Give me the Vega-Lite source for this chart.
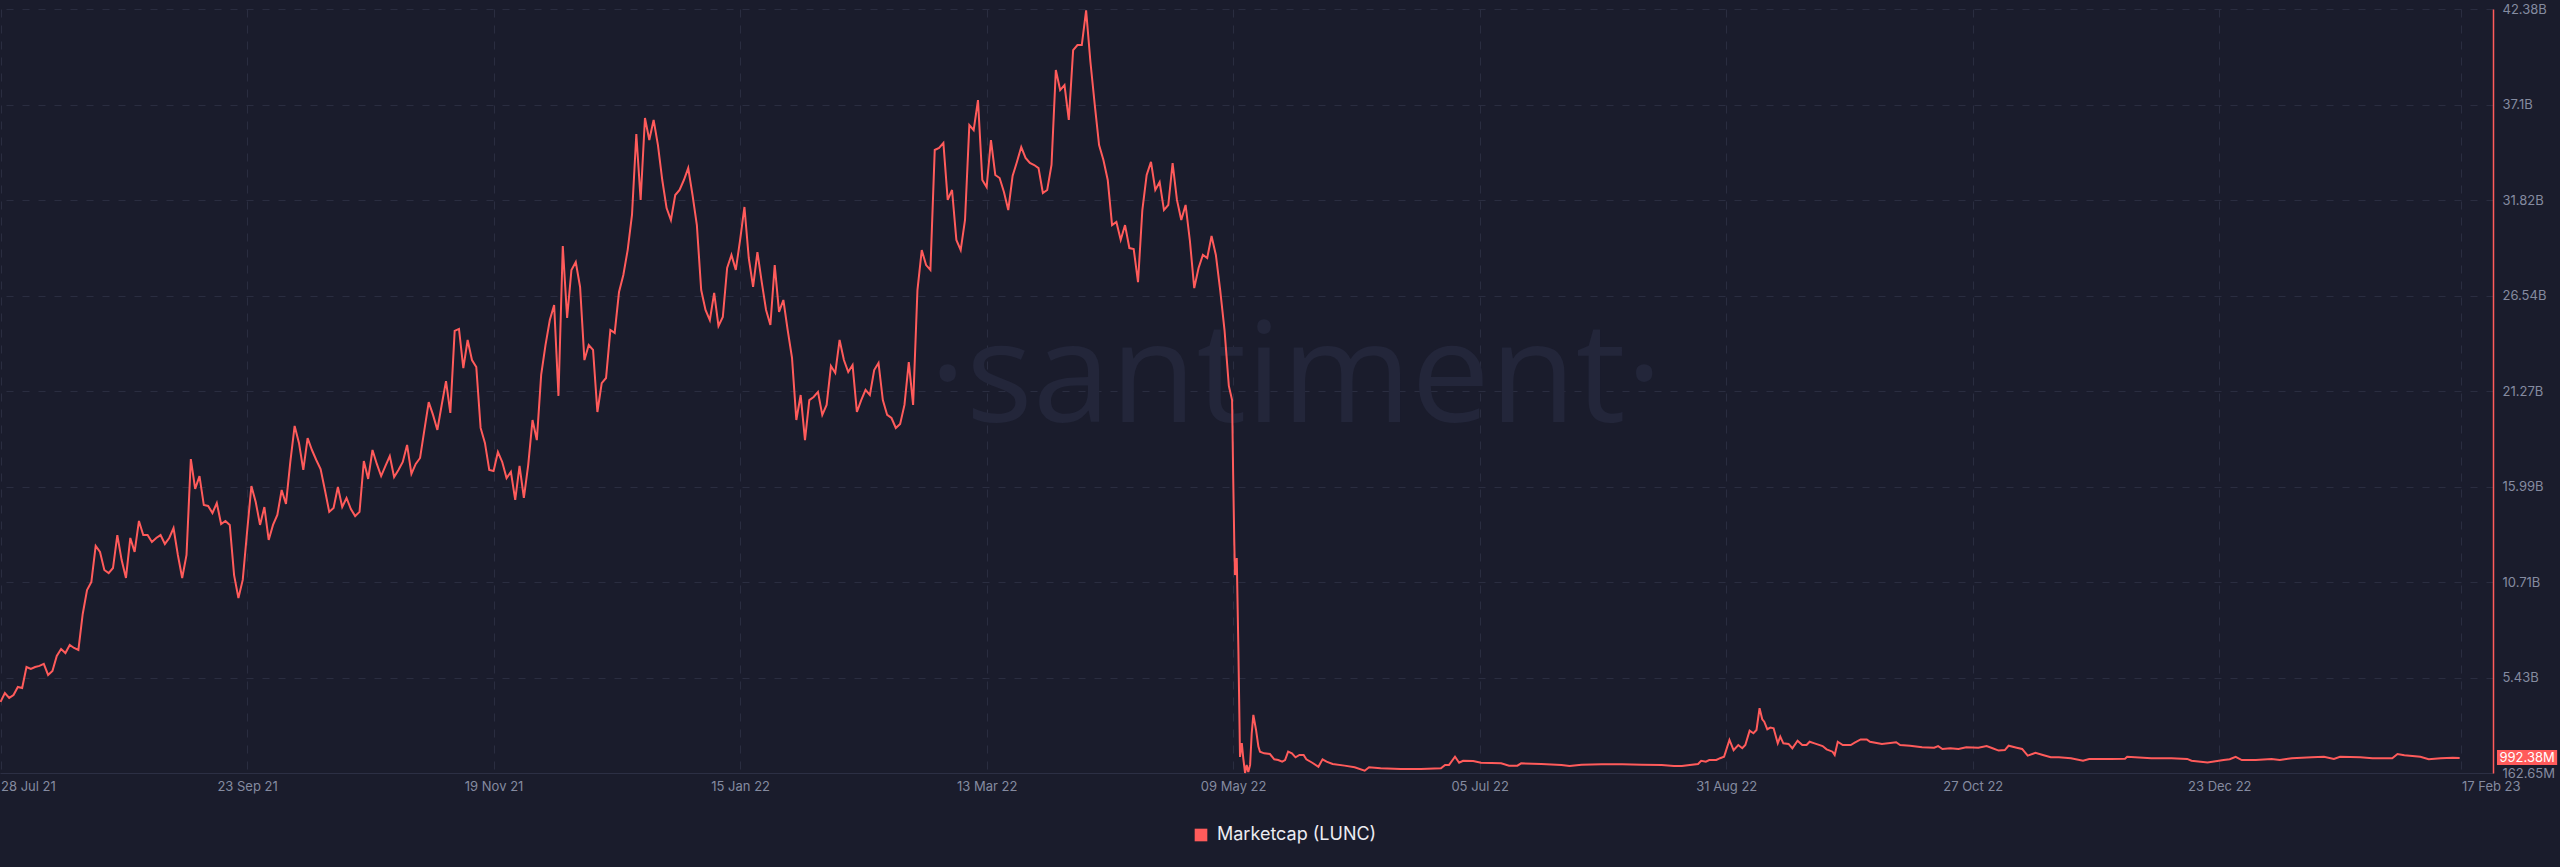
{
"$schema": "https://vega.github.io/schema/vega-lite/v6.json",
"width": 2493, "height": 764,
"autosize": {"type": "none"},
"padding": {"left": 0, "top": 9, "right": 67, "bottom": 94},
"background": "#1a1c2c",
"config": {"view": {"stroke": null}, "font": "Inter"},
"layer": [
{
"data": {"values": [{"wm": "·santiment·"}]},
"mark": {"type": "text", "font": "Open Sans", "fontWeight": 400, "fontSize": 140, "color": "#23263a", "align": "center", "baseline": "alphabetic"},
"encoding": {
"x": {"datum": {"year": 2022, "month": 5, "date": 23, "hours": 12, "utc": true}, "type": "temporal", "title": null},
"y": {"datum": 19560000000, "type": "quantitative", "title": null},
"text": {"field": "wm"}
}
},
{
"data": {"values": [
{"date":"2021-07-28","marketcap":4.09e9},{"date":"2021-07-29","marketcap":4.58e9},{"date":"2021-07-30","marketcap":4.31e9},{"date":"2021-07-31","marketcap":4.47e9},
{"date":"2021-08-01","marketcap":4.92e9},{"date":"2021-08-02","marketcap":4.86e9},{"date":"2021-08-03","marketcap":6.02e9},{"date":"2021-08-04","marketcap":5.91e9},
{"date":"2021-08-05","marketcap":6.02e9},{"date":"2021-08-06","marketcap":6.08e9},{"date":"2021-08-07","marketcap":6.19e9},{"date":"2021-08-08","marketcap":5.58e9},
{"date":"2021-08-09","marketcap":5.80e9},{"date":"2021-08-10","marketcap":6.63e9},{"date":"2021-08-11","marketcap":7.01e9},{"date":"2021-08-12","marketcap":6.79e9},
{"date":"2021-08-13","marketcap":7.24e9},{"date":"2021-08-14","marketcap":7.07e9},{"date":"2021-08-15","marketcap":6.96e9},{"date":"2021-08-16","marketcap":8.95e9},
{"date":"2021-08-17","marketcap":10.27e9},{"date":"2021-08-18","marketcap":10.72e9},{"date":"2021-08-19","marketcap":12.71e9},{"date":"2021-08-20","marketcap":12.38e9},
{"date":"2021-08-21","marketcap":11.38e9},{"date":"2021-08-22","marketcap":11.21e9},{"date":"2021-08-23","marketcap":11.49e9},{"date":"2021-08-24","marketcap":13.31e9},
{"date":"2021-08-25","marketcap":11.93e9},{"date":"2021-08-26","marketcap":10.94e9},{"date":"2021-08-27","marketcap":13.15e9},{"date":"2021-08-28","marketcap":12.38e9},
{"date":"2021-08-29","marketcap":14.09e9},{"date":"2021-08-30","marketcap":13.31e9},{"date":"2021-08-31","marketcap":13.31e9},{"date":"2021-09-01","marketcap":12.93e9},
{"date":"2021-09-02","marketcap":13.15e9},{"date":"2021-09-03","marketcap":13.31e9},{"date":"2021-09-04","marketcap":12.82e9},{"date":"2021-09-05","marketcap":13.15e9},
{"date":"2021-09-06","marketcap":13.70e9},{"date":"2021-09-07","marketcap":12.21e9},{"date":"2021-09-08","marketcap":10.94e9},{"date":"2021-09-09","marketcap":12.21e9},
{"date":"2021-09-10","marketcap":17.51e9},{"date":"2021-09-11","marketcap":15.86e9},{"date":"2021-09-12","marketcap":16.57e9},{"date":"2021-09-13","marketcap":14.97e9},
{"date":"2021-09-14","marketcap":14.92e9},{"date":"2021-09-15","marketcap":14.53e9},{"date":"2021-09-16","marketcap":15.08e9},{"date":"2021-09-17","marketcap":13.92e9},
{"date":"2021-09-18","marketcap":14.09e9},{"date":"2021-09-19","marketcap":13.87e9},{"date":"2021-09-20","marketcap":11.10e9},{"date":"2021-09-21","marketcap":9.83e9},
{"date":"2021-09-22","marketcap":10.83e9},{"date":"2021-09-23","marketcap":13.48e9},{"date":"2021-09-24","marketcap":16.02e9},{"date":"2021-09-25","marketcap":15.14e9},
{"date":"2021-09-26","marketcap":13.87e9},{"date":"2021-09-27","marketcap":14.86e9},{"date":"2021-09-28","marketcap":13.04e9},{"date":"2021-09-29","marketcap":13.87e9},
{"date":"2021-09-30","marketcap":14.42e9},{"date":"2021-10-01","marketcap":15.80e9},{"date":"2021-10-02","marketcap":15.03e9},{"date":"2021-10-03","marketcap":17.35e9},
{"date":"2021-10-04","marketcap":19.34e9},{"date":"2021-10-05","marketcap":18.40e9},{"date":"2021-10-06","marketcap":16.91e9},{"date":"2021-10-07","marketcap":18.67e9},
{"date":"2021-10-08","marketcap":18.01e9},{"date":"2021-10-09","marketcap":17.46e9},{"date":"2021-10-10","marketcap":16.96e9},{"date":"2021-10-11","marketcap":15.80e9},
{"date":"2021-10-12","marketcap":14.59e9},{"date":"2021-10-13","marketcap":14.81e9},{"date":"2021-10-14","marketcap":15.97e9},{"date":"2021-10-15","marketcap":14.86e9},
{"date":"2021-10-16","marketcap":15.36e9},{"date":"2021-10-17","marketcap":14.75e9},{"date":"2021-10-18","marketcap":14.36e9},{"date":"2021-10-19","marketcap":14.59e9},
{"date":"2021-10-20","marketcap":17.40e9},{"date":"2021-10-21","marketcap":16.41e9},{"date":"2021-10-22","marketcap":18.01e9},{"date":"2021-10-23","marketcap":17.24e9},
{"date":"2021-10-24","marketcap":16.57e9},{"date":"2021-10-25","marketcap":17.13e9},{"date":"2021-10-26","marketcap":17.68e9},{"date":"2021-10-27","marketcap":16.52e9},
{"date":"2021-10-28","marketcap":16.91e9},{"date":"2021-10-29","marketcap":17.35e9},{"date":"2021-10-30","marketcap":18.29e9},{"date":"2021-10-31","marketcap":16.69e9},
{"date":"2021-11-01","marketcap":17.24e9},{"date":"2021-11-02","marketcap":17.57e9},{"date":"2021-11-03","marketcap":19.12e9},{"date":"2021-11-04","marketcap":20.66e9},
{"date":"2021-11-05","marketcap":19.95e9},{"date":"2021-11-06","marketcap":19.12e9},{"date":"2021-11-07","marketcap":20.50e9},{"date":"2021-11-08","marketcap":21.82e9},
{"date":"2021-11-09","marketcap":20.06e9},{"date":"2021-11-10","marketcap":24.59e9},{"date":"2021-11-11","marketcap":24.70e9},{"date":"2021-11-12","marketcap":22.54e9},
{"date":"2021-11-13","marketcap":24.09e9},{"date":"2021-11-14","marketcap":22.98e9},{"date":"2021-11-15","marketcap":22.60e9},{"date":"2021-11-16","marketcap":19.23e9},
{"date":"2021-11-17","marketcap":18.40e9},{"date":"2021-11-18","marketcap":16.91e9},{"date":"2021-11-19","marketcap":16.85e9},{"date":"2021-11-20","marketcap":17.90e9},
{"date":"2021-11-21","marketcap":17.35e9},{"date":"2021-11-22","marketcap":16.46e9},{"date":"2021-11-23","marketcap":16.80e9},{"date":"2021-11-24","marketcap":15.25e9},
{"date":"2021-11-25","marketcap":17.13e9},{"date":"2021-11-26","marketcap":15.36e9},{"date":"2021-11-27","marketcap":17.18e9},{"date":"2021-11-28","marketcap":19.67e9},
{"date":"2021-11-29","marketcap":18.56e9},{"date":"2021-11-30","marketcap":22.16e9},{"date":"2021-12-01","marketcap":23.81e9},{"date":"2021-12-02","marketcap":25.19e9},
{"date":"2021-12-03","marketcap":26.02e9},{"date":"2021-12-04","marketcap":21.00e9},{"date":"2021-12-05","marketcap":29.28e9},{"date":"2021-12-06","marketcap":25.31e9},
{"date":"2021-12-07","marketcap":27.96e9},{"date":"2021-12-08","marketcap":28.40e9},{"date":"2021-12-09","marketcap":27.02e9},{"date":"2021-12-10","marketcap":22.98e9},
{"date":"2021-12-11","marketcap":23.81e9},{"date":"2021-12-12","marketcap":23.54e9},{"date":"2021-12-13","marketcap":20.11e9},{"date":"2021-12-14","marketcap":21.71e9},
{"date":"2021-12-15","marketcap":21.99e9},{"date":"2021-12-16","marketcap":24.64e9},{"date":"2021-12-17","marketcap":24.48e9},{"date":"2021-12-18","marketcap":26.74e9},
{"date":"2021-12-19","marketcap":27.68e9},{"date":"2021-12-20","marketcap":29.06e9},{"date":"2021-12-21","marketcap":31.00e9},{"date":"2021-12-22","marketcap":35.47e9},
{"date":"2021-12-23","marketcap":31.83e9},{"date":"2021-12-24","marketcap":36.36e9},{"date":"2021-12-25","marketcap":35.14e9},{"date":"2021-12-26","marketcap":36.25e9},
{"date":"2021-12-27","marketcap":34.86e9},{"date":"2021-12-28","marketcap":32.93e9},{"date":"2021-12-29","marketcap":31.38e9},{"date":"2021-12-30","marketcap":30.72e9},
{"date":"2021-12-31","marketcap":32.10e9},{"date":"2022-01-01","marketcap":32.38e9},{"date":"2022-01-02","marketcap":32.93e9},{"date":"2022-01-03","marketcap":33.59e9},
{"date":"2022-01-04","marketcap":32.10e9},{"date":"2022-01-05","marketcap":30.44e9},{"date":"2022-01-06","marketcap":26.85e9},{"date":"2022-01-07","marketcap":25.75e9},
{"date":"2022-01-08","marketcap":25.19e9},{"date":"2022-01-09","marketcap":26.69e9},{"date":"2022-01-10","marketcap":24.86e9},{"date":"2022-01-11","marketcap":25.36e9},
{"date":"2022-01-12","marketcap":28.07e9},{"date":"2022-01-13","marketcap":28.79e9},{"date":"2022-01-14","marketcap":27.96e9},{"date":"2022-01-15","marketcap":29.62e9},
{"date":"2022-01-16","marketcap":31.44e9},{"date":"2022-01-17","marketcap":28.62e9},{"date":"2022-01-18","marketcap":27.02e9},{"date":"2022-01-19","marketcap":28.95e9},
{"date":"2022-01-20","marketcap":27.29e9},{"date":"2022-01-21","marketcap":25.75e9},{"date":"2022-01-22","marketcap":24.92e9},{"date":"2022-01-23","marketcap":28.23e9},
{"date":"2022-01-24","marketcap":25.64e9},{"date":"2022-01-25","marketcap":26.30e9},{"date":"2022-01-26","marketcap":24.64e9},{"date":"2022-01-27","marketcap":23.10e9},
{"date":"2022-01-28","marketcap":19.67e9},{"date":"2022-01-29","marketcap":21.05e9},{"date":"2022-01-30","marketcap":18.56e9},{"date":"2022-01-31","marketcap":20.77e9},
{"date":"2022-02-01","marketcap":20.94e9},{"date":"2022-02-02","marketcap":21.22e9},{"date":"2022-02-03","marketcap":19.95e9},{"date":"2022-02-04","marketcap":20.50e9},
{"date":"2022-02-05","marketcap":22.65e9},{"date":"2022-02-06","marketcap":22.27e9},{"date":"2022-02-07","marketcap":24.09e9},{"date":"2022-02-08","marketcap":22.98e9},
{"date":"2022-02-09","marketcap":22.32e9},{"date":"2022-02-10","marketcap":22.71e9},{"date":"2022-02-11","marketcap":20.11e9},{"date":"2022-02-12","marketcap":20.77e9},
{"date":"2022-02-13","marketcap":21.33e9},{"date":"2022-02-14","marketcap":21.05e9},{"date":"2022-02-15","marketcap":22.43e9},{"date":"2022-02-16","marketcap":22.82e9},
{"date":"2022-02-17","marketcap":20.77e9},{"date":"2022-02-18","marketcap":19.95e9},{"date":"2022-02-19","marketcap":19.78e9},{"date":"2022-02-20","marketcap":19.23e9},
{"date":"2022-02-21","marketcap":19.45e9},{"date":"2022-02-22","marketcap":20.50e9},{"date":"2022-02-23","marketcap":22.87e9},{"date":"2022-02-24","marketcap":20.50e9},
{"date":"2022-02-25","marketcap":26.85e9},{"date":"2022-02-26","marketcap":29.06e9},{"date":"2022-02-27","marketcap":28.23e9},{"date":"2022-02-28","marketcap":27.96e9},
{"date":"2022-03-01","marketcap":34.59e9},{"date":"2022-03-02","marketcap":34.70e9},{"date":"2022-03-03","marketcap":34.98e9},{"date":"2022-03-04","marketcap":31.83e9},
{"date":"2022-03-05","marketcap":32.38e9},{"date":"2022-03-06","marketcap":29.62e9},{"date":"2022-03-07","marketcap":29.06e9},{"date":"2022-03-08","marketcap":30.72e9},
{"date":"2022-03-09","marketcap":35.97e9},{"date":"2022-03-10","marketcap":35.69e9},{"date":"2022-03-11","marketcap":37.35e9},{"date":"2022-03-12","marketcap":32.93e9},
{"date":"2022-03-13","marketcap":32.54e9},{"date":"2022-03-14","marketcap":35.14e9},{"date":"2022-03-15","marketcap":33.21e9},{"date":"2022-03-16","marketcap":33.04e9},
{"date":"2022-03-17","marketcap":32.27e9},{"date":"2022-03-18","marketcap":31.27e9},{"date":"2022-03-19","marketcap":33.15e9},{"date":"2022-03-20","marketcap":33.93e9},
{"date":"2022-03-21","marketcap":34.75e9},{"date":"2022-03-22","marketcap":34.15e9},{"date":"2022-03-23","marketcap":33.87e9},{"date":"2022-03-24","marketcap":33.76e9},
{"date":"2022-03-25","marketcap":33.59e9},{"date":"2022-03-26","marketcap":32.21e9},{"date":"2022-03-27","marketcap":32.38e9},{"date":"2022-03-28","marketcap":33.76e9},
{"date":"2022-03-29","marketcap":39.01e9},{"date":"2022-03-30","marketcap":37.90e9},{"date":"2022-03-31","marketcap":38.18e9},{"date":"2022-04-01","marketcap":36.25e9},
{"date":"2022-04-02","marketcap":40.11e9},{"date":"2022-04-03","marketcap":40.39e9},{"date":"2022-04-04","marketcap":40.39e9},{"date":"2022-04-05","marketcap":42.30e9},
{"date":"2022-04-06","marketcap":39.45e9},{"date":"2022-04-07","marketcap":37.08e9},{"date":"2022-04-08","marketcap":34.86e9},{"date":"2022-04-09","marketcap":34.04e9},
{"date":"2022-04-10","marketcap":32.93e9},{"date":"2022-04-11","marketcap":30.44e9},{"date":"2022-04-12","marketcap":30.61e9},{"date":"2022-04-13","marketcap":29.62e9},
{"date":"2022-04-14","marketcap":30.44e9},{"date":"2022-04-15","marketcap":29.17e9},{"date":"2022-04-16","marketcap":29.12e9},{"date":"2022-04-17","marketcap":27.29e9},
{"date":"2022-04-18","marketcap":31.27e9},{"date":"2022-04-19","marketcap":33.21e9},{"date":"2022-04-20","marketcap":33.93e9},{"date":"2022-04-21","marketcap":32.38e9},
{"date":"2022-04-22","marketcap":32.82e9},{"date":"2022-04-23","marketcap":31.27e9},{"date":"2022-04-24","marketcap":31.55e9},{"date":"2022-04-25","marketcap":33.87e9},
{"date":"2022-04-26","marketcap":31.83e9},{"date":"2022-04-27","marketcap":30.72e9},{"date":"2022-04-28","marketcap":31.55e9},{"date":"2022-04-29","marketcap":29.56e9},
{"date":"2022-04-30","marketcap":26.96e9},{"date":"2022-05-01","marketcap":28.07e9},{"date":"2022-05-02","marketcap":28.79e9},{"date":"2022-05-03","marketcap":28.62e9},
{"date":"2022-05-04","marketcap":29.84e9},{"date":"2022-05-05","marketcap":28.79e9},{"date":"2022-05-06","marketcap":26.85e9},{"date":"2022-05-07","marketcap":24.64e9},
{"date":"2022-05-08","marketcap":21.55e9},{"date":"2022-05-08T18:00Z","marketcap":20.77e9},{"date":"2022-05-09T00:00Z","marketcap":16.63e9},{"date":"2022-05-09T06:00Z","marketcap":13.04e9},
{"date":"2022-05-09T10:00Z","marketcap":11.10e9},{"date":"2022-05-09T20:00Z","marketcap":12.04e9},{"date":"2022-05-10T05:00Z","marketcap":6.96e9},{"date":"2022-05-10T14:00Z","marketcap":1.05e9},
{"date":"2022-05-11T00:00Z","marketcap":1.82e9},{"date":"2022-05-11T08:00Z","marketcap":0.99e9},{"date":"2022-05-11T18:00Z","marketcap":0.16265e9},{"date":"2022-05-12T03:00Z","marketcap":0.61e9},
{"date":"2022-05-12T12:00Z","marketcap":0.22e9},{"date":"2022-05-12T22:00Z","marketcap":0.61e9},{"date":"2022-05-13T07:00Z","marketcap":2.37e9},{"date":"2022-05-13T16:00Z","marketcap":3.37e9},
{"date":"2022-05-14T07:00Z","marketcap":2.54e9},{"date":"2022-05-14T20:00Z","marketcap":1.62e9},{"date":"2022-05-15T05:00Z","marketcap":1.34e9},
{"date":"2022-05-16T04:00Z","marketcap":1.25e9},{"date":"2022-05-17T12:00Z","marketcap":1.21e9},{"date":"2022-05-18T12:00Z","marketcap":0.92e9},{"date":"2022-05-19T10:00Z","marketcap":0.88e9},
{"date":"2022-05-20T08:00Z","marketcap":0.79e9},{"date":"2022-05-21T00:00Z","marketcap":0.88e9},{"date":"2022-05-21T17:00Z","marketcap":1.34e9},{"date":"2022-05-22T14:00Z","marketcap":1.25e9},
{"date":"2022-05-23T10:00Z","marketcap":1.03e9},{"date":"2022-05-24T08:00Z","marketcap":1.16e9},{"date":"2022-05-25T07:00Z","marketcap":1.16e9},{"date":"2022-05-25T22:00Z","marketcap":0.92e9},
{"date":"2022-05-27T07:00Z","marketcap":0.73e9},{"date":"2022-05-28T17:00Z","marketcap":0.51e9},{"date":"2022-05-29T16:00Z","marketcap":0.92e9},{"date":"2022-05-30T14:00Z","marketcap":0.79e9},
{"date":"2022-06-01T00:00Z","marketcap":0.66e9},{"date":"2022-06-03T18:00Z","marketcap":0.57e9},{"date":"2022-06-06T02:00Z","marketcap":0.48e9},{"date":"2022-06-08T10:00Z","marketcap":0.29e9},
{"date":"2022-06-09T10:00Z","marketcap":0.48e9},{"date":"2022-06-12T02:00Z","marketcap":0.42e9},{"date":"2022-06-16T18:00Z","marketcap":0.38e9},{"date":"2022-06-21T10:00Z","marketcap":0.38e9},
{"date":"2022-06-26T01:00Z","marketcap":0.42e9},{"date":"2022-06-27T00:00Z","marketcap":0.61e9},{"date":"2022-06-27T22:00Z","marketcap":0.61e9},{"date":"2022-06-29T07:00Z","marketcap":1.06e9},
{"date":"2022-06-30T06:00Z","marketcap":0.73e9},{"date":"2022-07-01T04:00Z","marketcap":0.84e9},{"date":"2022-07-03T12:00Z","marketcap":0.83e9},{"date":"2022-07-05T07:00Z","marketcap":0.73e9},
{"date":"2022-07-09T23:00Z","marketcap":0.70e9},{"date":"2022-07-11T19:00Z","marketcap":0.57e9},{"date":"2022-07-13T17:00Z","marketcap":0.57e9},{"date":"2022-07-14T14:00Z","marketcap":0.70e9},
{"date":"2022-07-19T06:00Z","marketcap":0.66e9},{"date":"2022-07-23T22:00Z","marketcap":0.61e9},{"date":"2022-07-25T19:00Z","marketcap":0.55e9},{"date":"2022-07-28T13:00Z","marketcap":0.62e9},
{"date":"2022-08-02T05:00Z","marketcap":0.64e9},{"date":"2022-08-06T22:00Z","marketcap":0.64e9},{"date":"2022-08-11T12:00Z","marketcap":0.62e9},{"date":"2022-08-16T02:00Z","marketcap":0.61e9},
{"date":"2022-08-18T22:00Z","marketcap":0.55e9},{"date":"2022-08-20T18:00Z","marketcap":0.55e9},{"date":"2022-08-22T14:00Z","marketcap":0.61e9},{"date":"2022-08-24T12:00Z","marketcap":0.66e9},
{"date":"2022-08-25T05:00Z","marketcap":0.84e9},{"date":"2022-08-26T07:00Z","marketcap":0.79e9},{"date":"2022-08-27T02:00Z","marketcap":0.88e9},{"date":"2022-08-28T17:00Z","marketcap":0.88e9},
{"date":"2022-08-29T14:00Z","marketcap":0.98e9},{"date":"2022-08-30T12:00Z","marketcap":1.06e9},{"date":"2022-08-31T18:00Z","marketcap":1.99e9},{"date":"2022-09-01T17:00Z","marketcap":1.43e9},
{"date":"2022-09-02T19:00Z","marketcap":1.71e9},{"date":"2022-09-03T17:00Z","marketcap":1.53e9},{"date":"2022-09-04T10:00Z","marketcap":1.71e9},{"date":"2022-09-05T10:00Z","marketcap":2.50e9},
{"date":"2022-09-06T07:00Z","marketcap":2.36e9},{"date":"2022-09-07T00:00Z","marketcap":2.54e9},{"date":"2022-09-07T17:00Z","marketcap":3.74e9},{"date":"2022-09-08T08:00Z","marketcap":3.13e9},
{"date":"2022-09-08T19:00Z","marketcap":3.00e9},{"date":"2022-09-09T12:00Z","marketcap":2.58e9},{"date":"2022-09-10T05:00Z","marketcap":2.67e9},{"date":"2022-09-10T23:00Z","marketcap":2.63e9},
{"date":"2022-09-11T22:00Z","marketcap":1.80e9},{"date":"2022-09-12T12:00Z","marketcap":2.17e9},{"date":"2022-09-13T05:00Z","marketcap":1.80e9},{"date":"2022-09-14T10:00Z","marketcap":1.77e9},
{"date":"2022-09-15T07:00Z","marketcap":1.53e9},{"date":"2022-09-16T12:00Z","marketcap":1.95e9},{"date":"2022-09-17T14:00Z","marketcap":1.71e9},{"date":"2022-09-18T14:00Z","marketcap":1.71e9},
{"date":"2022-09-19T07:00Z","marketcap":1.89e9},{"date":"2022-09-20T10:00Z","marketcap":1.80e9},{"date":"2022-09-22T07:00Z","marketcap":1.65e9},{"date":"2022-09-23T05:00Z","marketcap":1.47e9},
{"date":"2022-09-24T14:00Z","marketcap":1.34e9},{"date":"2022-09-25T02:00Z","marketcap":1.16e9},{"date":"2022-09-25T19:00Z","marketcap":1.89e9},{"date":"2022-09-26T23:00Z","marketcap":1.71e9},
{"date":"2022-09-28T19:00Z","marketcap":1.71e9},{"date":"2022-09-29T17:00Z","marketcap":1.84e9},{"date":"2022-10-01T02:00Z","marketcap":2.02e9},{"date":"2022-10-02T12:00Z","marketcap":2.02e9},
{"date":"2022-10-03T06:00Z","marketcap":1.89e9},{"date":"2022-10-06T00:00Z","marketcap":1.77e9},{"date":"2022-10-09T07:00Z","marketcap":1.86e9},{"date":"2022-10-10T05:00Z","marketcap":1.71e9},
{"date":"2022-10-12T12:00Z","marketcap":1.67e9},{"date":"2022-10-15T07:00Z","marketcap":1.58e9},{"date":"2022-10-18T02:00Z","marketcap":1.56e9},{"date":"2022-10-19T00:00Z","marketcap":1.65e9},
{"date":"2022-10-20T00:00Z","marketcap":1.49e9},{"date":"2022-10-21T19:00Z","marketcap":1.53e9},{"date":"2022-10-23T17:00Z","marketcap":1.49e9},{"date":"2022-10-25T12:00Z","marketcap":1.58e9},
{"date":"2022-10-28T07:00Z","marketcap":1.56e9},{"date":"2022-10-30T05:00Z","marketcap":1.65e9},{"date":"2022-10-31T14:00Z","marketcap":1.53e9},{"date":"2022-11-02T00:00Z","marketcap":1.40e9},
{"date":"2022-11-03T10:00Z","marketcap":1.43e9},{"date":"2022-11-04T07:00Z","marketcap":1.67e9},{"date":"2022-11-06T04:00Z","marketcap":1.56e9},{"date":"2022-11-07T10:00Z","marketcap":1.49e9},
{"date":"2022-11-08T17:00Z","marketcap":1.12e9},{"date":"2022-11-10T12:00Z","marketcap":1.28e9},{"date":"2022-11-12T05:00Z","marketcap":1.16e9},{"date":"2022-11-14T01:00Z","marketcap":1.03e9},
{"date":"2022-11-15T22:00Z","marketcap":1.03e9},{"date":"2022-11-18T17:00Z","marketcap":0.98e9},{"date":"2022-11-21T12:00Z","marketcap":0.84e9},{"date":"2022-11-22T22:00Z","marketcap":0.94e9},
{"date":"2022-11-28T00:00Z","marketcap":0.94e9},{"date":"2022-12-01T05:00Z","marketcap":0.95e9},{"date":"2022-12-01T17:00Z","marketcap":1.06e9},{"date":"2022-12-07T07:00Z","marketcap":0.98e9},
{"date":"2022-12-11T22:00Z","marketcap":0.98e9},{"date":"2022-12-15T14:00Z","marketcap":0.94e9},{"date":"2022-12-16T14:00Z","marketcap":0.84e9},{"date":"2022-12-20T07:00Z","marketcap":0.75e9},
{"date":"2022-12-24T00:00Z","marketcap":0.88e9},{"date":"2022-12-25T10:00Z","marketcap":0.92e9},{"date":"2022-12-26T19:00Z","marketcap":1.06e9},{"date":"2022-12-28T05:00Z","marketcap":0.88e9},
{"date":"2022-12-31T10:00Z","marketcap":0.88e9},{"date":"2023-01-04T02:00Z","marketcap":0.94e9},{"date":"2023-01-06T00:00Z","marketcap":0.88e9},{"date":"2023-01-08T19:00Z","marketcap":0.98e9},
{"date":"2023-01-13T10:00Z","marketcap":1.03e9},{"date":"2023-01-16T05:00Z","marketcap":1.06e9},{"date":"2023-01-18T12:00Z","marketcap":0.94e9},{"date":"2023-01-19T22:00Z","marketcap":1.06e9},
{"date":"2023-01-24T14:00Z","marketcap":1.03e9},{"date":"2023-01-27T10:00Z","marketcap":0.98e9},{"date":"2023-02-01T00:00Z","marketcap":0.98e9},{"date":"2023-02-02T05:00Z","marketcap":1.21e9},
{"date":"2023-02-03T19:00Z","marketcap":1.14e9},{"date":"2023-02-07T12:00Z","marketcap":1.06e9},{"date":"2023-02-09T10:00Z","marketcap":0.92e9},{"date":"2023-02-12T05:00Z","marketcap":0.98e9},
{"date":"2023-02-15T00:00Z","marketcap":1.00e9},{"date":"2023-02-16T14:00Z","marketcap":0.99238e9}
]},
"mark": {"type": "line", "strokeWidth": 2},
"encoding": {
"x": {"field": "date", "type": "temporal", "title": null,
 "scale": {"type": "utc", "domain": [{"year": 2021, "month": 7, "date": 27, "hours": 21, "utc": true}, {"year": 2023, "month": 2, "date": 24, "hours": 7, "utc": true}]},
 "axis": {
  "values": [
   {"year": 2021, "month": 7, "date": 28, "utc": true},
   {"year": 2021, "month": 9, "date": 23, "utc": true},
   {"year": 2021, "month": 11, "date": 19, "utc": true},
   {"year": 2022, "month": 1, "date": 15, "utc": true},
   {"year": 2022, "month": 3, "date": 13, "utc": true},
   {"year": 2022, "month": 5, "date": 9, "utc": true},
   {"year": 2022, "month": 7, "date": 5, "utc": true},
   {"year": 2022, "month": 8, "date": 31, "utc": true},
   {"year": 2022, "month": 10, "date": 27, "utc": true},
   {"year": 2022, "month": 12, "date": 23, "utc": true},
   {"year": 2023, "month": 2, "date": 17, "utc": true}
  ],
  "labelExpr": "utcFormat(datum.value, '%d %b %y')",
  "title": null, "ticks": false,
  "domainColor": "#2c2f44", "domainWidth": 1,
  "grid": true, "gridColor": "#2a2d40", "gridDash": [8, 8], "gridWidth": 1,
  "labelColor": "#858ba0", "labelFontSize": 13, "labelFont": "Inter", "labelPadding": 7,
  "labelFlush": false, "labelOverlap": false,
  "labelAlign": {"condition": {"test": "datum.value < datetime(2021, 7, 1) || datum.value > datetime(2023, 1, 10)", "value": "left"}, "value": "center"}
 }
},
"y": {"field": "marketcap", "type": "quantitative", "title": null,
 "scale": {"domain": [162650000, 42380000000], "nice": false, "zero": false},
 "axis": {
  "orient": "right",
  "values": [162650000, 5430000000, 10710000000, 15990000000, 21270000000, 26540000000, 31820000000, 37100000000, 42380000000],
  "labelExpr": "datum.value >= 1e9 ? format(datum.value / 1e9, '.2~f') + 'B' : format(datum.value / 1e6, '.2~f') + 'M'",
  "title": null, "ticks": false,
  "domainColor": "#ff5b5b", "domainWidth": 1.5,
  "grid": true, "gridColor": "#2a2d40", "gridDash": [7, 9], "gridWidth": 1,
  "labelColor": "#858ba0", "labelFontSize": 13, "labelFont": "Inter", "labelPadding": 9,
  "labelFlush": false, "labelOverlap": false, "labelBaseline": "middle", "labelAlign": "left"
 }
},
"color": {"datum": "Marketcap (LUNC)", "scale": {"range": ["#ff5b5b"]},
 "legend": {
  "orient": "none", "legendX": 1192, "legendY": 817, "title": null, "padding": 0,
  "symbolType": "square", "symbolSize": 160, "symbolStrokeWidth": 0,
  "labelFontSize": 18, "labelColor": "#ececf2", "labelFont": "Inter", "labelOffset": 7,
  "encode": {"symbols": {"update": {"fill": {"value": "#ff5b5b"}, "stroke": {"value": "#ff5b5b"}, "opacity": {"value": 1}}}}
 }
}
}
},
{
"data": {"values": [{"label": "992.38M"}]},
"mark": {"type": "rect", "color": "#ff5b5b"},
"encoding": {
"x": {"datum": {"year": 2023, "month": 2, "date": 25, "hours": 5, "utc": true}, "type": "temporal", "title": null},
"x2": {"datum": {"year": 2023, "month": 3, "date": 11, "hours": 3, "utc": true}},
"y": {"datum": 1434000000, "type": "quantitative", "title": null},
"y2": {"datum": 604700000}
}
},
{
"data": {"values": [{"label": "992.38M"}]},
"mark": {"type": "text", "color": "#ffffff", "fontSize": 13, "font": "Inter", "align": "center", "baseline": "middle"},
"encoding": {
"x": {"datum": {"year": 2023, "month": 3, "date": 4, "hours": 4, "utc": true}, "type": "temporal", "title": null},
"y": {"datum": 992380000, "type": "quantitative", "title": null},
"text": {"field": "label"}
}
}
]
}
